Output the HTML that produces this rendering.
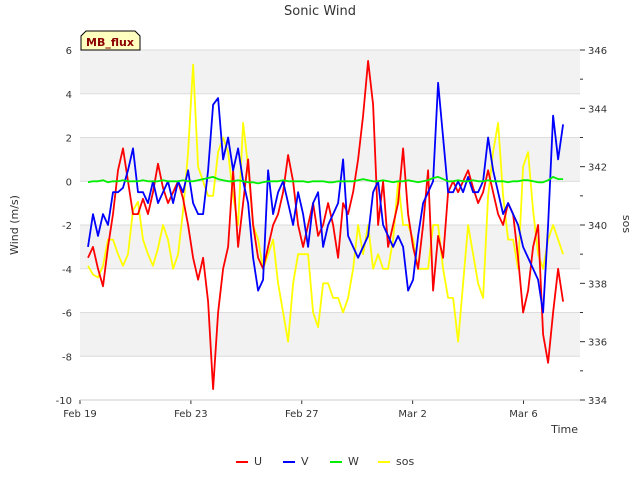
<!DOCTYPE html>
<html><head><meta charset="utf-8"><style>
body{margin:0;background:#fff;font-family:"Liberation Sans","DejaVu Sans",sans-serif}
</style></head><body>
<svg width="640" height="480" xmlns="http://www.w3.org/2000/svg" font-family="DejaVu Sans, Liberation Sans, sans-serif">
<g id="bands"></g><g id="axes"></g><g id="series"></g>
<text x="320" y="15" text-anchor="middle" font-size="13" fill="#333">Sonic Wind</text>
<text transform="translate(18,225) rotate(-90)" text-anchor="middle" font-size="11" fill="#333">Wind (m/s)</text>
<text transform="translate(623,224) rotate(90)" text-anchor="middle" font-size="11" fill="#333">sos</text>
<text x="578" y="433" text-anchor="end" font-size="11" fill="#333">Time</text>
<g>
<path d="M81,50 L81,36 L86,31 L135,31 L140,36 L140,50 Z" fill="#ffffc0" stroke="#000" stroke-width="1"/>
<text x="110" y="46" text-anchor="middle" font-size="11" font-weight="bold" fill="#8b0000">MB_flux</text></g>
<g id="legend"></g>
</svg>
<script>
const days0 = 0.29, dayStep = 0.1804;
const uVals = [-3.5,-3,-4,-4.8,-3,-1.5,0.5,1.5,0,-1.5,-1.5,-0.8,-1.5,-0.5,0.8,-0.3,-1,-0.5,0,-0.8,-2,-3.5,-4.5,-3.5,-5.5,-9.5,-6,-4,-3,0.5,-3,-1,1,-2,-3.5,-4,-3,-2,-1.5,-0.5,1.2,0,-2,-3,-2,-1,-2.5,-2,-1,-2,-3.5,-1,-1.5,-0.5,1,3,5.5,3.5,-2,0,-3,-2,-1,1.5,-1.5,-3,-4,-2,0.5,-5,-2.5,-3.5,-0.5,0,-0.5,0,0.5,-0.3,-1,-0.5,0.5,-0.5,-1.5,-2,-1,-1.5,-3.5,-6,-5,-3,-2,-7,-8.3,-6,-4,-5.5];
const vVals = [-3,-1.5,-2.5,-1.5,-2,-0.5,-0.5,-0.3,0.5,1.5,-0.5,-0.5,-1,0,-1,-0.5,0,-1,0,-0.5,0.5,-1,-1.5,-1.5,0.5,3.5,3.8,1,2,0.5,1.5,0,-1,-3.5,-5,-4.5,0.5,-1.5,-0.5,0,-1,-2,-0.5,-1.5,-3,-1,-0.5,-3,-2,-1.5,-1,1,-2.5,-3,-3.5,-3,-2.5,-0.5,0,-2,-2.5,-3,-2.5,-3,-5,-4.5,-2.5,-1,-0.5,0,4.5,2,-0.5,-0.5,0,-0.5,0.2,-0.5,-0.5,0,2,0.5,-0.5,-1.5,-1,-1.5,-2,-3,-3.5,-4,-4.5,-6,-2,3,1,2.6];
const wVals = [-0.05,0,0,0.05,-0.05,0,0,0.05,0,0,0,0.05,0,0,0,0.05,0,0,0,0.05,0,0,0.05,0.1,0.15,0.2,0.1,0.05,0,0,0.05,0,-0.05,-0.05,-0.1,-0.05,0,0,0,0.05,0,0,0,0,-0.05,0,0,0,-0.05,-0.05,0,0,0,0,0.05,0.1,0.05,0,0,0.05,0,-0.05,0,0,0.05,0,-0.05,0,0.05,0.15,0.2,0.1,0,0,0.05,0,0,0.05,0,0,0.05,0,0,0,-0.05,0,0,0.05,0.05,0,-0.05,-0.05,0.05,0.2,0.1,0.1];
const sosVals = [338.6,338.3,338.2,338.6,339.5,339.5,339,338.6,339,340.5,340.8,339.5,339,338.6,339.2,340,339.5,338.5,339,340.5,342.5,345.5,342,341.5,341,341,342.5,343,342.5,341,340,343.5,342,340,339.5,338.5,339,339.5,338,337,336,338,339,339,339,337,336.5,338,338,337.5,337.5,337,337.5,338.5,340,339,340,338.5,339,338.5,338.5,339.5,341.5,340,340,339.5,338.5,338.5,338.5,340,340,338.5,337.5,337.5,336,338,340,339,338,337.5,341,342.5,343.5,341,339.5,339.5,338.5,342,342.5,340.5,339,338.5,339.5,340,339.5,339];
const leftTicks = [6,4,2,0,-2,-4,-6,-8,-10];
const rightTicks = [346,344,342,340,338,336,334];
const xTickDays = [0,4,8,12,16];
const xTickLabels = ["Feb 19","Feb 23","Feb 27","Mar 2","Mar 6"];

const X0=80,X1=580,Y0=50,Y1=400, pxPerDay=27.72;
const xs=d=>X0+d*pxPerDay;
const yL=v=>Y1-(v+10)/16*(Y1-Y0);
const yR=v=>Y1-(v-334)/12*(Y1-Y0);
const NS="http://www.w3.org/2000/svg";
function mk(tag,attrs,parent){const e=document.createElementNS(NS,tag);for(const k in attrs)e.setAttribute(k,attrs[k]);parent.appendChild(e);return e;}
const bands=document.getElementById('bands'),axes=document.getElementById('axes'),series=document.getElementById('series');
mk('rect',{x:X0,y:Y0,width:X1-X0,height:Y1-Y0,fill:'#fff'},bands);
for(let i=0;i<leftTicks.length-1;i++){
  if(i%2===0){const r=mk('rect',{x:X0,y:yL(leftTicks[i]),width:X1-X0,height:yL(leftTicks[i+1])-yL(leftTicks[i]),fill:'#f2f2f2'},bands);
  
  }
}
leftTicks.forEach(v=>{
  const l=mk('line',{x1:X0,x2:X1,y1:yL(v),y2:yL(v),stroke:'#dcdcdc','stroke-width':1},axes);
  
  
  const t=mk('text',{x:X0-8,y:yL(v)+4,'text-anchor':'end','font-size':10,fill:'#333'},axes);
  
  
  t.textContent=v;
});
rightTicks.forEach(v=>{
  mk('line',{x1:X1,x2:X1+5,y1:yR(v),y2:yR(v),stroke:'#333'},axes);
  if(v>334) mk('line',{x1:X1,x2:X1+3,y1:yR(v-1),y2:yR(v-1),stroke:'#333'},axes);
  const t=mk('text',{x:X1+8,y:yR(v)+4,'font-size':10,fill:'#333'},axes);
  
  
  t.textContent=v;
});
xTickDays.forEach((d,i)=>{
  mk('line',{x1:xs(d),x2:xs(d),y1:Y1,y2:Y1+4,stroke:'#333'},axes);
  const t=mk('text',{x:xs(d),y:Y1+17,'text-anchor':'middle','font-size':10,fill:'#333'},axes);
  
  
  t.textContent=xTickLabels[i];
});
mk('line',{x1:X0,x2:X1,y1:Y1,y2:Y1,stroke:'#ccc'},axes);
function line(vals,yf,color,name){
  const pts=vals.map((v,i)=>xs(days0+i*dayStep).toFixed(1)+','+yf(v).toFixed(1)).join(' ');
  const p=mk('polyline',{points:pts,fill:'none',stroke:color,'stroke-width':1.8,'stroke-linejoin':'round'},series);
  
  
}
line(sosVals,yR,'#ffff00','series-sos');
line(uVals,yL,'#ff0000','series-u');
line(vVals,yL,'#0000ff','series-v');
line(wVals,yL,'#00ee00','series-w');
const leg=document.getElementById('legend');
[['U','#ff0000',236],['V','#0000ff',283],['W','#00ee00',330],['sos','#ffff00',378]].forEach(([n,c,x])=>{
  const g=mk('g',{},leg);
  
  
  mk('line',{x1:x,x2:x+12,y1:462,y2:462,stroke:c,'stroke-width':2},g);
  const t=mk('text',{x:x+18,y:465,'font-size':11,fill:'#333'},g);
  t.textContent=n;
});
</script>
</body></html>
